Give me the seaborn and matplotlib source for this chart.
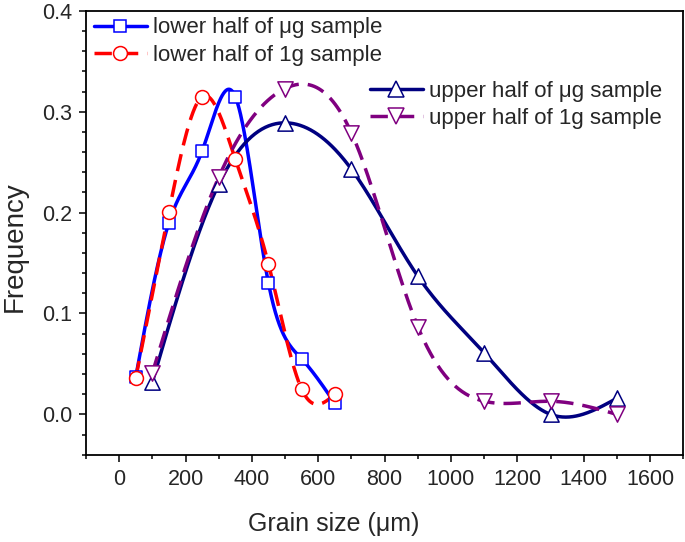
import numpy as np
import pandas as pd
import seaborn as sns
import matplotlib
matplotlib.use("Agg")
import matplotlib.pyplot as plt
from matplotlib.lines import Line2D
from matplotlib.ticker import MultipleLocator

# ---------------- data ----------------
lower_x = [50, 150, 250, 350, 450, 550, 650]
lower_ug = [0.037, 0.190, 0.261, 0.315, 0.130, 0.055, 0.011]
lower_1g = [0.036, 0.201, 0.315, 0.253, 0.149, 0.025, 0.020]

upper_x = [100, 300, 500, 700, 900, 1100, 1300, 1500]
upper_ug = [0.032, 0.228, 0.289, 0.243, 0.137, 0.061, 0.000, 0.016]
upper_1g = [0.041, 0.235, 0.323, 0.279, 0.087, 0.013, 0.013, 0.000]

series_labels = ["lower half of \u03bcg sample", "lower half of 1g sample",
                 "upper half of \u03bcg sample", "upper half of 1g sample"]
x_ticks = [0, 200, 400, 600, 800, 1000, 1200, 1400, 1600]
y_ticks = [0.0, 0.1, 0.2, 0.3, 0.4]


def natural_spline(x, y, num=400):
    """Natural cubic spline through the data points (line connection style)."""
    x = np.asarray(x, float)
    y = np.asarray(y, float)
    n = len(x)
    h = np.diff(x)
    A = np.zeros((n, n))
    r = np.zeros(n)
    A[0, 0] = 1
    A[-1, -1] = 1
    for i in range(1, n - 1):
        A[i, i - 1] = h[i - 1]
        A[i, i] = 2 * (h[i - 1] + h[i])
        A[i, i + 1] = h[i]
        r[i] = 6 * ((y[i + 1] - y[i]) / h[i] - (y[i] - y[i - 1]) / h[i - 1])
    M = np.linalg.solve(A, r)
    xs = np.linspace(x[0], x[-1], num)
    idx = np.clip(np.searchsorted(x, xs) - 1, 0, n - 2)
    x0, x1 = x[idx], x[idx + 1]
    hh = x1 - x0
    a = (x1 - xs) / hh
    b = (xs - x0) / hh
    ys = (a * y[idx] + b * y[idx + 1]
          + ((a ** 3 - a) * M[idx] + (b ** 3 - b) * M[idx + 1]) * hh ** 2 / 6)
    return xs, ys


sns.set_style("ticks")
plt.rcParams["font.family"] = ["Liberation Sans", "DejaVu Sans"]

fig = plt.figure(figsize=(6.85, 5.42), dpi=100)
ax = fig.add_axes([0.1255, 0.161, 0.872, 0.819])

styles = [
    (lower_x, lower_ug, "#0000FF", "-", "s", 9),
    (lower_x, lower_1g, "#FF0000", (0, (5, 2.6)), "o", 10),
    (upper_x, upper_ug, "#000080", "-", "^", 11),
    (upper_x, upper_1g, "#800080", (0, (5, 2.6)), "v", 11),
]

handles = []
for (xv, yv, col, ls, mk, ms), lab in zip(styles, series_labels):
    xs, ys = natural_spline(xv, yv)
    curve = pd.DataFrame({"x": xs, "y": ys})
    sns.lineplot(data=curve, x="x", y="y", ax=ax, color=col, linewidth=2.5,
                 linestyle=ls, estimator=None, sort=False, zorder=2)
    pts = pd.DataFrame({"x": xv, "y": yv})
    sns.scatterplot(data=pts, x="x", y="y", ax=ax, marker=mk, s=ms ** 2,
                    color="white", edgecolor=col, linewidth=1.1, zorder=3)
    handles.append(Line2D([], [], color=col, linewidth=2.5, linestyle=ls,
                          marker=mk, markersize=ms, markerfacecolor="white",
                          markeredgecolor=col, markeredgewidth=1.1, label=lab))

ax.set_xlim(-100, 1700)
ax.set_ylim(-0.04, 0.4)
ax.set_xticks(x_ticks)
ax.set_yticks(y_ticks)
ax.set_xticklabels([str(v) for v in x_ticks])
ax.set_yticklabels([f"{v:.1f}" for v in y_ticks])
ax.xaxis.set_minor_locator(MultipleLocator(100))
ax.yaxis.set_minor_locator(MultipleLocator(0.02))
ax.tick_params(which="major", direction="out", length=5, width=1.3,
               labelsize=15.5, pad=5)
ax.tick_params(which="minor", direction="out", length=3, width=1.3)
for sp in ax.spines.values():
    sp.set_visible(True)
    sp.set_linewidth(1.3)
    sp.set_color("black")

ax.set_xlabel("Grain size (\u03bcm)", fontsize=18)
ax.xaxis.set_label_coords(0.415, -0.13)
ax.set_ylabel("Frequency", fontsize=20)
ax.yaxis.set_label_coords(-0.097, 0.468)

leg_kw = dict(frameon=False, fontsize=16, handlelength=2.4,
              handletextpad=0.27, labelspacing=0.28, borderaxespad=0.0,
              borderpad=0.0, loc="upper left")
leg1 = ax.legend(handles=handles[:2], bbox_to_anchor=(0.013, 0.985), **leg_kw)
ax.add_artist(leg1)
ax.legend(handles=handles[2:], bbox_to_anchor=(0.475, 0.843), **leg_kw)

fig.savefig("out.png", dpi=100)
